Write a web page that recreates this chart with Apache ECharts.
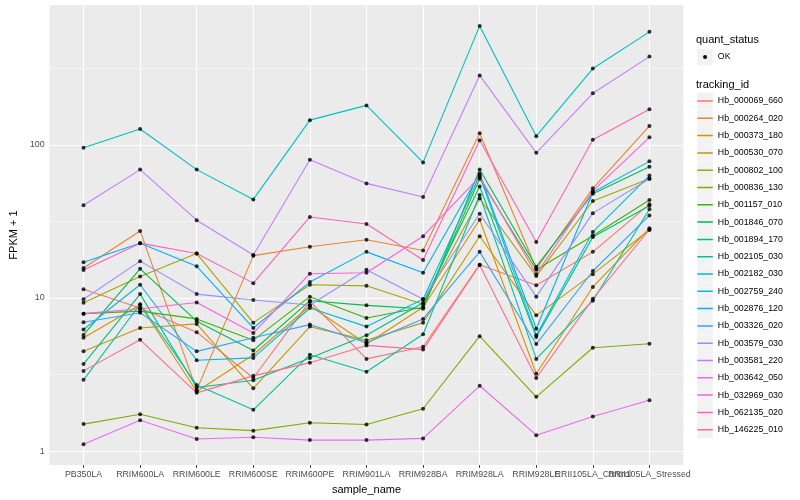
<!DOCTYPE html>
<html><head><meta charset="utf-8">
<script src="https://cdn.jsdelivr.net/npm/echarts@6/dist/echarts.min.js"></script>
<style>html,body{margin:0;padding:0;background:#fff}#c{width:800px;height:500px}</style>
</head><body><div id="c"></div>
<script>
const categories = ['PB350LA','RRIM600LA','RRIM600LE','RRIM600SE','RRIM600PE','RRIM901LA','RRIM928BA','RRIM928LA','RRIM928LE','RRII105LA_Control','RRII105LA_Stressed'];
const yTickLabels = [1, 10, 100];
const yMinorBreaks = [3.1623, 31.623, 316.23];
const trackingIds = ['Hb_000069_660','Hb_000264_020','Hb_000373_180','Hb_000530_070','Hb_000802_100','Hb_000836_130','Hb_001157_010','Hb_001846_070','Hb_001894_170','Hb_002105_030','Hb_002182_030','Hb_002759_240','Hb_002876_120','Hb_003326_020','Hb_003579_030','Hb_003581_220','Hb_003642_050','Hb_032969_030','Hb_062135_020','Hb_146225_010'];
const colors = ['#F8766D','#EA8331','#D89000','#C09B00','#A3A500','#7CAE00','#39B600','#00BB4E','#00BF7D','#00C1A3','#00BFC4','#00BAE0','#00B0F6','#35A2FF','#9590FF','#C77CFF','#E76BF3','#FA62DB','#FF62BC','#FF6C91'];

const Hb_000069_660 = [11.4, 8.6, 5.98, 3.0, 9.5, 4.0, 4.8, 16.5, 12.1, 20, 41];
const Hb_000264_020 = [15.7, 27.4, 2.5, 18.9, 21.6, 24, 20.4, 119, 15.5, 52, 133];
const Hb_000373_180 = [5.49, 9.0, 2.45, 4.26, 8.9, 5.0, 8.7, 32.4, 3.2, 11.8, 28.5];
const Hb_000530_070 = [4.48, 6.37, 6.77, 2.57, 6.5, 5.3, 6.9, 25.3, 7.7, 14.3, 27.8];
const Hb_000802_100 = [9.3, 13.8, 19.5, 6.9, 12.2, 12.0, 9.1, 44.6, 13.9, 43, 60];
const Hb_000836_130 = [1.50, 1.74, 1.42, 1.36, 1.53, 1.49, 1.89, 5.63, 2.26, 4.73, 5.02];
const Hb_001157_010 = [7.9, 8.2, 7.3, 5.3, 10.2, 7.4, 8.7, 60, 15.3, 25.5, 43.6];
const Hb_001846_070 = [5.74, 15.5, 7.05, 4.54, 9.6, 8.95, 8.5, 69, 16, 48, 72];
const Hb_001894_170 = [3.7, 10.6, 2.6, 2.9, 4.06, 5.7, 9.3, 53.5, 5.55, 25, 40];
const Hb_002105_030 = [2.92, 9.1, 2.7, 1.86, 4.26, 3.3, 5.8, 47, 4.0, 9.6, 38];
const Hb_002182_030 = [95.7, 127, 68.9, 44, 145, 181, 76.8, 598, 114, 315, 547];
const Hb_002759_240 = [6.22, 12.2, 3.92, 4.06, 8.6, 6.5, 9.8, 63, 5.7, 27, 63];
const Hb_002876_120 = [17.1, 22.8, 16.1, 6.37, 12.7, 20, 14.6, 65, 6.3, 49, 78];
const Hb_003326_020 = [6.94, 8.0, 4.48, 5.5, 6.7, 5.1, 7.3, 20, 5.0, 15, 34.6];
const Hb_003579_030 = [9.8, 17.4, 10.6, 9.7, 9.0, 15.3, 9.8, 35.5, 10.2, 35.8, 60];
const Hb_003581_220 = [40.3, 68.9, 32.2, 19.1, 80, 56, 45.6, 284, 88.7, 217, 377];
const Hb_003642_050 = [1.11, 1.59, 1.20, 1.23, 1.18, 1.18, 1.21, 2.67, 1.27, 1.68, 2.15];
const Hb_032969_030 = [7.9, 8.5, 9.35, 5.9, 14.4, 14.6, 25.3, 62, 14.3, 50, 112];
const Hb_062135_020 = [15.2, 22.8, 19.5, 12.5, 33.8, 30.4, 17.7, 107, 23.2, 108, 171];
const Hb_146225_010 = [3.34, 5.33, 2.4, 3.1, 3.78, 4.9, 4.6, 16.4, 3.0, 9.9, 28];

const seriesValues = [Hb_000069_660, Hb_000264_020, Hb_000373_180, Hb_000530_070, Hb_000802_100, Hb_000836_130, Hb_001157_010, Hb_001846_070, Hb_001894_170, Hb_002105_030, Hb_002182_030, Hb_002759_240, Hb_002876_120, Hb_003326_020, Hb_003579_030, Hb_003581_220, Hb_003642_050, Hb_032969_030, Hb_062135_020, Hb_146225_010];

const FONT = '"Liberation Sans", Arial, Helvetica, sans-serif';
const chart = echarts.init(document.getElementById('c'), null, {renderer: 'canvas'});
const idx = categories.map((c, i) => i);
const last = idx.length - 1;

const lineSeries = trackingIds.map((id, k) => ({
  type: 'line', name: id, z: 2, silent: true,
  data: seriesValues[k].map((v, i) => [i, v]),
  symbol: 'none', showSymbol: false,
  color: colors[k],
  lineStyle: {width: 1.1, color: colors[k]},
  emphasis: {disabled: true}
}));

const allPoints = [];
seriesValues.forEach(arr => arr.forEach((v, i) => allPoints.push([i, v])));

const gridLines = [];
yTickLabels.forEach(v => gridLines.push({yAxis: v, lineStyle: {width: 1.1}}));
yMinorBreaks.forEach(v => gridLines.push({yAxis: v, lineStyle: {width: 0.55}}));
idx.forEach(i => gridLines.push({xAxis: i, lineStyle: {width: 1.1}}));

const legendTop = 92.5, legendLeft = 697.3, keyW = 15.5, keyH = 17, keyGap = 0.3;
const graphics = [
  {type: 'text', left: 696, top: 34, style: {text: 'quant_status', font: '11px ' + FONT, fill: '#000'}},
  {type: 'rect', shape: {x: legendLeft, y: 48.5, width: keyW, height: keyH}, style: {fill: '#F2F2F2'}},
  {type: 'circle', shape: {cx: legendLeft + keyW / 2, cy: 57, r: 2}, style: {fill: '#000'}},
  {type: 'text', left: legendLeft + keyW + 5, top: 52, style: {text: 'OK', font: '8.8px ' + FONT, fill: '#000'}},
  {type: 'text', left: 696, top: 79, style: {text: 'tracking_id', font: '11px ' + FONT, fill: '#000'}}
];
trackingIds.forEach((id, k) => {
  graphics.push({type: 'rect', shape: {x: legendLeft, y: legendTop + k * (keyH + keyGap), width: keyW, height: keyH}, style: {fill: '#F2F2F2'}, z: -1});
});

const labelStyle = {color: '#4D4D4D', fontSize: 8.8, margin: 5, fontFamily: FONT, formatter: v => categories[Math.round(v)]};
// main x axis: ticks for all categories, labels for the first ones;
// two overlay axes carry the last two (overlapping) labels so none is hidden
const xMain = {
  type: 'value', min: -0.6, max: 10.6, position: 'bottom',
  axisLine: {show: false}, splitLine: {show: false},
  axisTick: {show: true, customValues: idx, length: 2.7, lineStyle: {color: '#333', width: 1}},
  axisLabel: Object.assign({customValues: idx.slice(0, last - 1)}, labelStyle),
  name: 'sample_name', nameLocation: 'middle', nameGap: 14.5,
  nameTextStyle: {color: '#000', fontSize: 11, fontFamily: FONT}
};
const xExtra = vals => ({
  type: 'value', min: -0.6, max: 10.6, position: 'bottom', offset: 0,
  axisLine: {show: false}, splitLine: {show: false}, axisTick: {show: false},
  axisLabel: Object.assign({customValues: vals}, labelStyle)
});

chart.setOption({
  animation: false,
  backgroundColor: '#fff',
  textStyle: {fontFamily: FONT},
  grid: {left: 40.6, right: 116.6, top: 5, bottom: 31, show: true, backgroundColor: '#EBEBEB', borderWidth: 0},
  xAxis: [xMain, xExtra([idx[last - 1]]), xExtra([idx[last]])],
  yAxis: {
    type: 'log', logBase: 10, min: 0.81, max: 819,
    axisLine: {show: false}, splitLine: {show: false},
    axisTick: {show: true, length: 2.7, lineStyle: {color: '#333', width: 1}},
    axisLabel: {
      showMinLabel: false, showMaxLabel: false,
      formatter: v => { const e = Math.log10(v); return Math.abs(e - Math.round(e)) < 1e-6 ? String(Math.round(v)) : ''; },
      color: '#4D4D4D', fontSize: 8.8, margin: 5, fontFamily: FONT
    },
    name: 'FPKM + 1', nameLocation: 'middle', nameGap: 24,
    nameTextStyle: {color: '#000', fontSize: 11, fontFamily: FONT}
  },
  legend: {
    orient: 'vertical', left: legendLeft, top: legendTop, padding: 0,
    itemWidth: keyW, itemHeight: keyH, itemGap: keyGap,
    icon: 'path://M0,0L0.01,0L0.01,0.01Z M0,7.75L15.5,7.75L15.5,9.25L0,9.25Z M15.49,16.99L15.5,16.99L15.5,17Z',
    itemStyle: {borderWidth: 0},
    textStyle: {fontSize: 8.8, color: '#000', fontFamily: FONT},
    selectedMode: false,
    data: trackingIds
  },
  graphic: graphics,
  series: [
    {type: 'line', name: '_grid', data: [[0, 1]], silent: true, z: 1, symbol: 'none', showSymbol: false,
     lineStyle: {opacity: 0}, itemStyle: {opacity: 0},
     markLine: {silent: true, z: 1, symbol: ['none', 'none'], label: {show: false}, animation: false,
       lineStyle: {color: '#FFFFFF', type: 'solid'}, emphasis: {disabled: true}, data: gridLines}},
    ...lineSeries,
    {type: 'scatter', name: 'OK', data: allPoints, symbol: 'circle', symbolSize: 4, z: 3, silent: true,
     itemStyle: {color: '#000'}, emphasis: {disabled: true}}
  ]
});
</script></body></html>
